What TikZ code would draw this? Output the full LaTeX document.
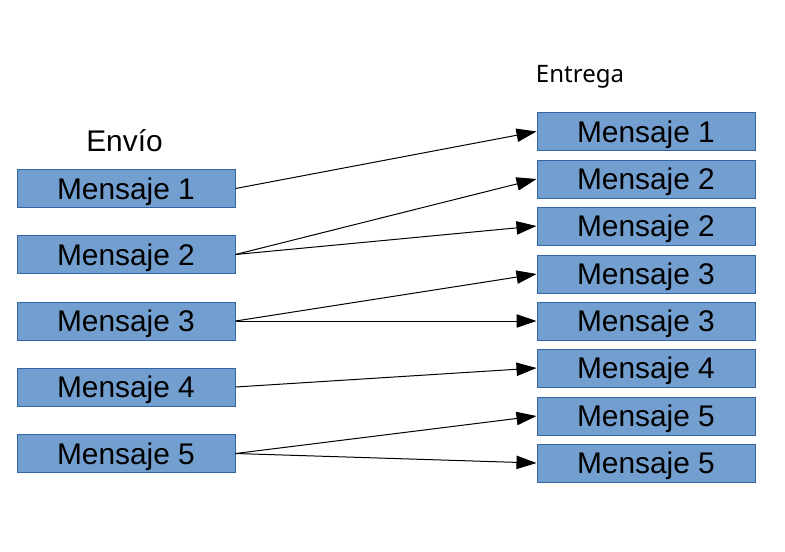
\documentclass[tikz,border=0pt]{standalone}
\usepackage{fontspec}
\setmainfont{Liberation Sans}
\newfontfamily\notosans{Noto Sans}
\usetikzlibrary{arrows.meta}
\definecolor{cajafondo}{HTML}{729FCF}
\definecolor{cajaborde}{HTML}{3465A4}
\begin{document}
\begin{tikzpicture}[x=0.75pt,y=-0.75pt,
			msg/.style={rectangle,draw=cajaborde,fill=cajafondo,line width=0.75pt,
				minimum width=163.5pt,minimum height=28.5pt,inner sep=0pt,
				font=\fontsize{22.4}{24}\selectfont,text height=15.8pt,text depth=0pt},
			flecha/.style={-{Triangle[length=15pt,width=10pt]},line width=0.75pt},]
\useasboundingbox (0,0) rectangle (785,551);
\node[font=\fontsize{22.4}{24}\selectfont,text height=15.8pt,text depth=0pt] (envio) at (124.5,140.5) {Envío};
\node[font=\notosans\fontsize{18}{20}\selectfont,text height=12.8pt,text depth=0pt] (entrega) at (580,73.5) {Entrega};
% envio
\node[msg] (e1) at (126,188.5) {Mensaje 1};
\node[msg] (e2) at (126,254.5) {Mensaje 2};
\node[msg] (e3) at (126,321) {Mensaje 3};
\node[msg] (e4) at (126,387) {Mensaje 4};
\node[msg] (e5) at (126,453.5) {Mensaje 5};
% entrega
\node[msg] (r1) at (646,131.5) {Mensaje 1};
\node[msg] (r2) at (646,179) {Mensaje 2};
\node[msg] (r2b) at (646,226) {Mensaje 2};
\node[msg] (r3) at (646,274) {Mensaje 3};
\node[msg] (r3b) at (646,321) {Mensaje 3};
\node[msg] (r4) at (646,368) {Mensaje 4};
\node[msg] (r5) at (646,416) {Mensaje 5};
\node[msg] (r5b) at (646,463) {Mensaje 5};
% flechas
\draw[flecha] (e1.east) -- (r1.west);
\draw[flecha] (e2.east) -- (r2.west);
\draw[flecha] (e2.east) -- (r2b.west);
\draw[flecha] (e3.east) -- (r3.west);
\draw[flecha] (e3.east) -- (r3b.west);
\draw[flecha] (e4.east) -- (r4.west);
\draw[flecha] (e5.east) -- (r5.west);
\draw[flecha] (e5.east) -- (r5b.west);
\end{tikzpicture}
\end{document}
